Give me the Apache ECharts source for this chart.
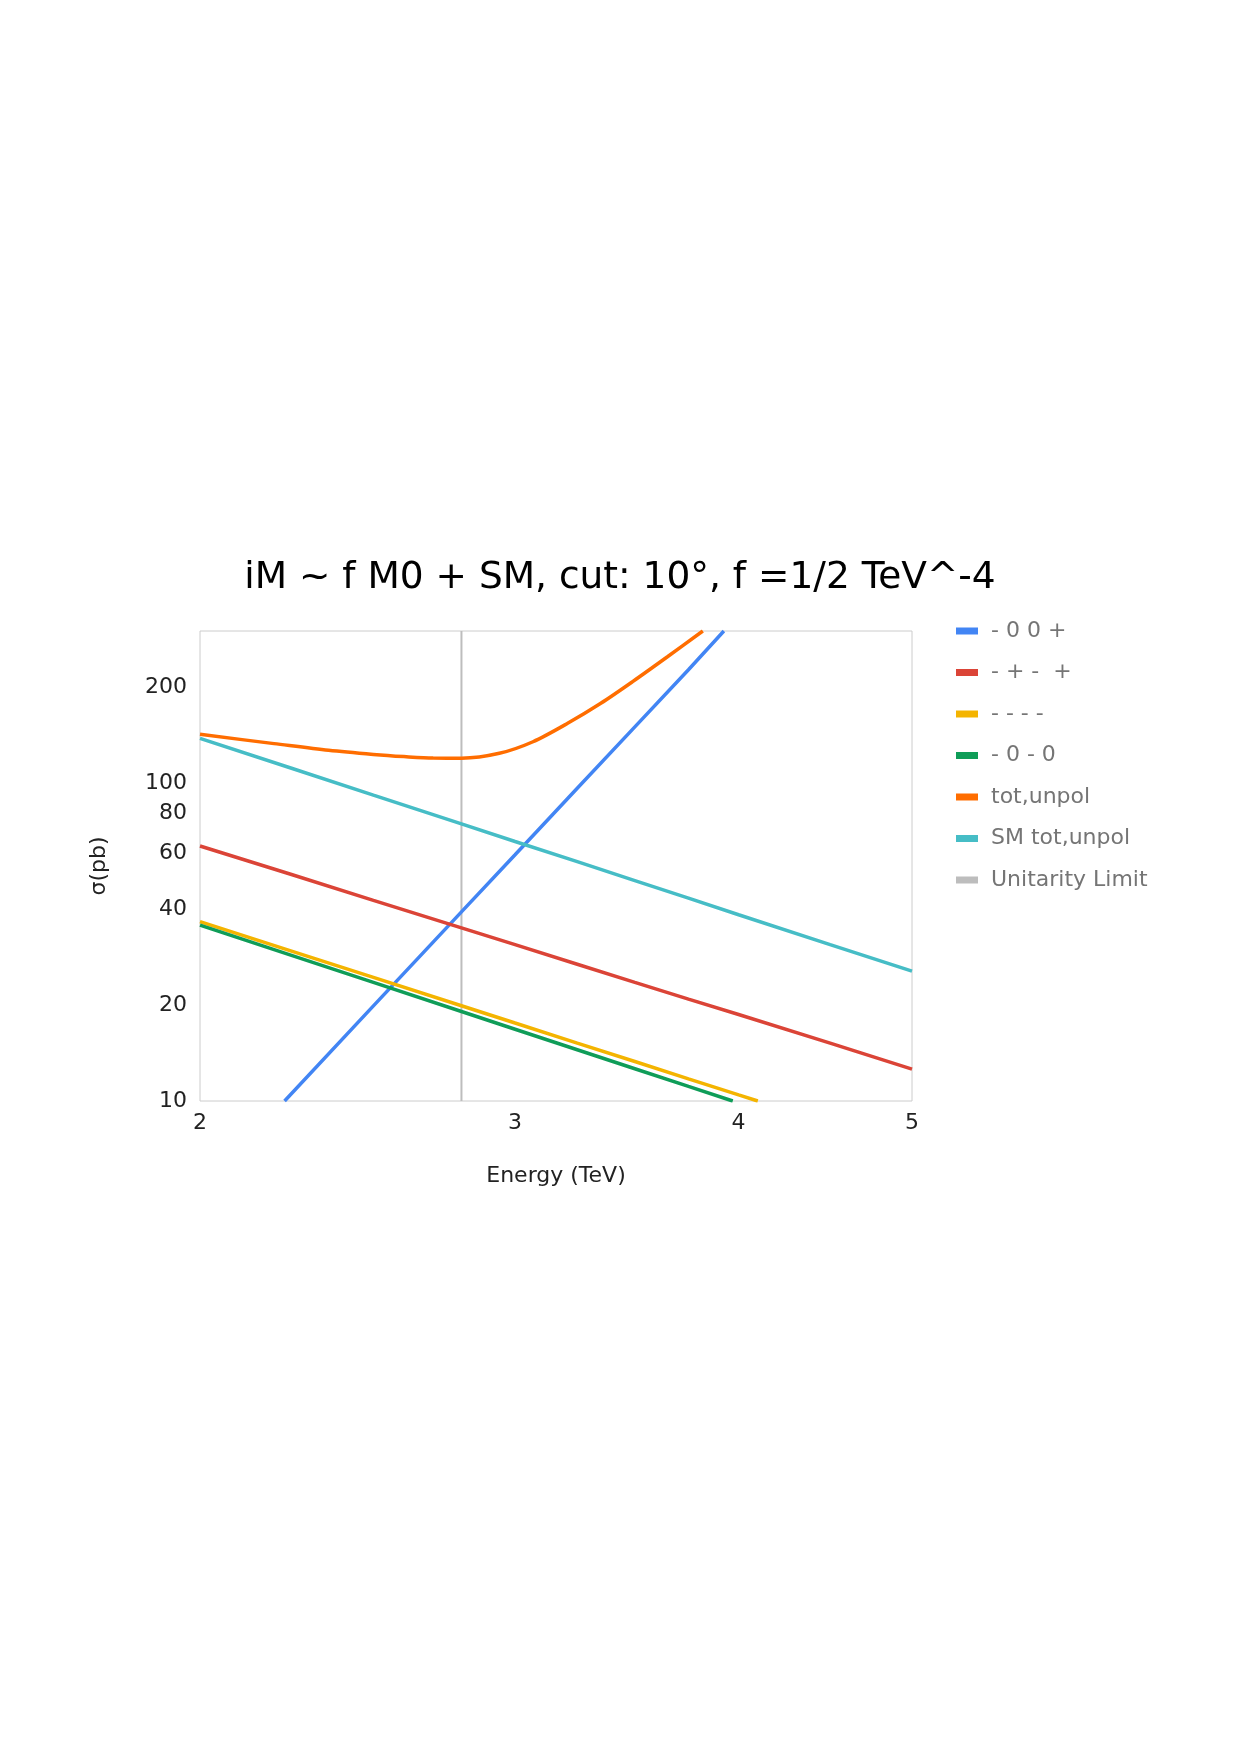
<!DOCTYPE html>
<html>
<head>
<meta charset="utf-8">
<title>iM ~ f M0 + SM</title>
<script src="https://cdn.jsdelivr.net/npm/echarts@6/dist/echarts.min.js"></script>
<style>
  html, body { margin: 0; padding: 0; background: #fff; }
  #chart { width: 1240px; height: 1755px; }
</style>
</head>
<body>
<div id="chart"></div>
<script>
// energies (TeV) and cross sections (pb)
const energy = [2, 2.25, 2.5, 2.8, 3, 3.25, 3.5, 3.75, 4, 4.5, 5];
const smTot = [138, 111.1, 91.5, 74.3, 65.4, 56.5, 49.3, 43.4, 38.5, 31.0, 25.6];
const mpmp = [63.3, 51.5, 42.7, 35.0, 31.0, 26.9, 23.6, 20.9, 18.7, 15.2, 12.6];

const energyMmmm = [2, 2.25, 2.5, 2.8, 3, 3.25, 3.5, 3.75, 4, 4.1];
const mmmm = [36.6, 29.58, 24.45, 19.92, 17.58, 15.21, 13.31, 11.74, 10.45, 10.0];

const energyM0m0 = [2, 2.25, 2.5, 2.8, 3, 3.25, 3.5, 3.75, 3.97];
const m0m0 = [35.7, 28.69, 23.59, 19.11, 16.81, 14.49, 12.63, 11.11, 10.0];

const energyM00p = [2.23, 2.5, 2.8, 3, 3.25, 3.5, 3.75, 3.925];
const m00p = [10, 19.9, 39.3, 59.4, 96.1, 149.9, 226.7, 300];

const energyTot = [2, 2.2, 2.36, 2.5, 2.6, 2.7, 2.8, 2.94, 3.07, 3.21, 3.35, 3.49, 3.65, 3.82];
const totUnpol = [142, 132.8, 126.5, 122.8, 120.9, 119.6, 119.5, 123.8, 134.6, 153.8, 177.8, 208, 249, 300];

const unitarityE = [2.8, 2.8];
const unitarityY = [10, 300];

const xTicks = [2, 3, 4, 5];
const yTicks = [10, 20, 40, 60, 80, 100, 200];

const zip = (xs, ys) => xs.map((x, i) => [x, ys[i]]);

const chart = echarts.init(document.getElementById('chart'));

const lineSeries = (name, color, data, extra) => Object.assign({
  name,
  type: 'line',
  data,
  showSymbol: false,
  symbol: 'none',
  clip: true,
  lineStyle: { width: 3.5, color },
  itemStyle: { color }
}, extra || {});

const option = {
  backgroundColor: '#fff',
  title: {
    text: 'iM ~ f M0 + SM, cut: 10°, f =1/2 TeV^-4',
    left: 'center',
    top: 554,
    textStyle: {
      fontFamily: 'DejaVu Sans',
      fontSize: 37.5,
      fontWeight: 'normal',
      color: '#000'
    }
  },
  legend: {
    orient: 'vertical',
    left: 951,
    top: 615,
    icon: 'rect',
    itemWidth: 22,
    itemHeight: 7,
    itemGap: 19.5,
    textStyle: {
      fontFamily: 'DejaVu Sans',
      fontSize: 22,
      color: '#757575',
      padding: [0, 0, 0, 8]
    },
    data: ['- 0 0 +', '- + -  +', '- - - -', '- 0 - 0', 'tot,unpol', 'SM tot,unpol', 'Unitarity Limit']
  },
  grid: {
    left: 200,
    right: 328,
    top: 631,
    bottom: 654,
    show: true,
    borderColor: '#cccccc',
    borderWidth: 1
  },
  xAxis: {
    type: 'log',
    logBase: 10,
    min: 2,
    max: 5,
    name: 'Energy (TeV)',
    nameLocation: 'middle',
    nameGap: 64,
    nameTextStyle: { fontFamily: 'DejaVu Sans', fontSize: 22, color: '#222' },
    axisLine: { show: false },
    axisTick: { show: false },
    splitLine: { show: false },
    axisLabel: {
      customValues: xTicks,
      margin: 11,
      fontFamily: 'DejaVu Sans',
      fontSize: 22,
      color: '#222'
    }
  },
  yAxis: {
    type: 'log',
    logBase: 10,
    min: 10,
    max: 300,
    name: 'σ(pb)',
    nameLocation: 'middle',
    nameGap: 90,
    nameTextStyle: { fontFamily: 'DejaVu Sans', fontSize: 22, color: '#222' },
    axisLine: { show: false },
    axisTick: { show: false },
    splitLine: { show: false },
    axisLabel: {
      customValues: yTicks,
      margin: 13,
      fontFamily: 'DejaVu Sans',
      fontSize: 22,
      color: '#222'
    }
  },
  series: [
    lineSeries('Unitarity Limit', '#bdbdbd', zip(unitarityE, unitarityY), { lineStyle: { width: 2, color: '#bdbdbd' }, z: 1 }),
    lineSeries('- 0 0 +', '#4285f4', zip(energyM00p, m00p)),
    lineSeries('- + -  +', '#db4437', zip(energy, mpmp)),
    lineSeries('- - - -', '#f4b400', zip(energyMmmm, mmmm)),
    lineSeries('- 0 - 0', '#0f9d58', zip(energyM0m0, m0m0)),
    lineSeries('tot,unpol', '#ff6d00', zip(energyTot, totUnpol), { smooth: 0.3 }),
    lineSeries('SM tot,unpol', '#46bdc6', zip(energy, smTot))
  ]
};

chart.setOption(option);
</script>
</body>
</html>
